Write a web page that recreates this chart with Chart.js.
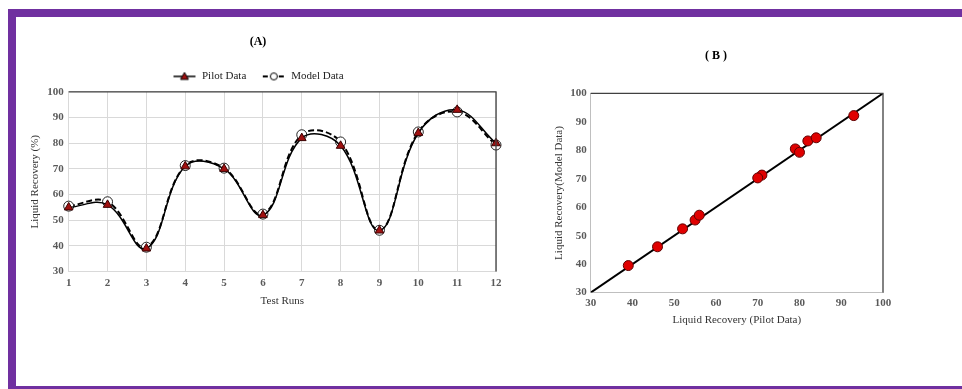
<!DOCTYPE html>
<html>
<head>
<meta charset="utf-8">
<script src="https://cdn.jsdelivr.net/npm/chart.js@4/dist/chart.umd.min.js"></script>
<style>
  body{margin:0;background:#fff;width:962px;height:389px;overflow:hidden;position:relative;}
  .frameTop{position:absolute;left:8px;top:9px;width:954px;height:8px;background:#7030a0;}
  .frameLeft{position:absolute;left:8px;top:9px;width:8px;height:380px;background:#7030a0;}
  .frameBottom{position:absolute;left:8px;top:386px;width:954px;height:3px;background:#7030a0;}
  #chartA{position:absolute;left:16px;top:17px;}
  #chartB{position:absolute;left:530px;top:17px;}
</style>
</head>
<body>
<div class="frameTop"></div>
<div class="frameLeft"></div>
<div class="frameBottom"></div>
<canvas id="chartA" width="500" height="310"></canvas>
<canvas id="chartB" width="400" height="320"></canvas>
<script>
const testRuns=[1,2,3,4,5,6,7,8,9,10,11,12]
const pilotData=[55,56,39,71,70,52,82,79,46,84,93,80]
const modelData=[55.5,57.2,39.5,71.3,70.3,52.4,83.3,80.5,46.1,84.4,92.2,79.3]
const axisTicks=[30,40,50,60,70,80,90,100]
const fitLine=[30,100]

const serif='"Liberation Serif", "Times New Roman", serif'
const tickFont={family:serif,size:11,weight:'bold'}
const titleFont={family:serif,size:11}

// dark line on top and right of the plot, like the excel chart border
const frameLines={
  id:'frameLines',
  afterDatasetsDraw(chart){
    const {ctx,chartArea:a}=chart
    ctx.save()
    ctx.strokeStyle='#404040'
    ctx.lineWidth=1.3
    ctx.beginPath()
    ctx.moveTo(a.left,a.top)
    ctx.lineTo(a.right,a.top)
    ctx.lineTo(a.right,a.bottom)
    ctx.stroke()
    ctx.restore()
  }
}

function legendIcon(dashed,marker){
  const c=document.createElement('canvas')
  c.width=24;c.height=12
  const g=c.getContext('2d')
  g.strokeStyle='#000'
  g.lineWidth=dashed?2:1.5
  if(dashed) g.setLineDash([5,3])
  g.beginPath();g.moveTo(1,6);g.lineTo(23,6);g.stroke()
  g.setLineDash([])
  g.lineWidth=1
  if(marker==='triangle'){
    g.fillStyle='#a01010'
    g.beginPath();g.moveTo(12,2);g.lineTo(16,9);g.lineTo(8,9);g.closePath();g.fill();g.stroke()
  }else{
    g.fillStyle='#fff'
    g.beginPath();g.arc(12,6,3.5,0,Math.PI*2);g.fill();g.stroke()
  }
  return c
}
const pilotIcon=legendIcon(false,'triangle')
const modelIcon=legendIcon(true,'circle')

const ctx1=document.getElementById('chartA')
new Chart(ctx1,{
  type:'line',
  data:{
    datasets:[{
      label:'Pilot Data',
      data:testRuns.map((r,i)=>({x:r,y:pilotData[i]})),
      borderColor:'#000',
      borderWidth:1.5,
      tension:0.4,
      clip:false,
      pointStyle:'triangle',
      pointRadius:5,
      pointBackgroundColor:'#a01010',
      pointBorderColor:'#3a0000',
      pointBorderWidth:1
    },{
      label:'Model Data',
      data:testRuns.map((r,i)=>({x:r,y:modelData[i]})),
      borderColor:'#000',
      borderWidth:2,
      borderDash:[6,3],
      tension:0.4,
      clip:false,
      pointStyle:'circle',
      pointRadius:5,
      pointBackgroundColor:'#fff',
      pointBorderColor:'#222',
      pointBorderWidth:1
    }]
  },
  options:{
    responsive:false,
    animation:false,
    layout:{padding:{left:4,right:20,top:9,bottom:15}},
    plugins:{
      title:{display:true,text:'(A)',color:'#000',font:{family:serif,size:12,weight:'bold'},padding:{top:9,bottom:6}},
      legend:{
        labels:{
          usePointStyle:true,
          pointStyleWidth:24,
          color:'#222',
          font:{family:serif,size:11},
          padding:15.5,
          generateLabels(chart){
            return chart.data.datasets.map((d,i)=>({
              text:d.label,
              datasetIndex:i,
              pointStyle:i===0?pilotIcon:modelIcon,
              fontColor:'#222',
              lineWidth:0,
              strokeStyle:'transparent',
              fillStyle:'transparent'
            }))
          }
        }
      },
      tooltip:{enabled:false}
    },
    scales:{
      x:{
        type:'linear',min:1,max:12,
        ticks:{stepSize:1,color:'#595959',font:tickFont,padding:5},
        grid:{color:'#d9d9d9',drawTicks:false},
        border:{color:'#d9d9d9'},
        title:{display:true,text:'Test Runs',color:'#333',font:titleFont,padding:{top:0,bottom:4}}
      },
      y:{
        min:30,max:100,
        afterBuildTicks(s){s.ticks=axisTicks.map(v=>({value:v}))},
        ticks:{color:'#595959',font:tickFont,padding:5},
        grid:{color:'#d9d9d9',drawTicks:false},
        border:{color:'#d9d9d9'},
        title:{display:true,text:'Liquid Recovery (%)',color:'#333',font:titleFont,padding:{top:9,bottom:0}}
      }
    }
  },
  plugins:[frameLines]
})

const ctx2=document.getElementById('chartB')
new Chart(ctx2,{
  type:'scatter',
  data:{
    datasets:[{
      label:'Pilot vs Model',
      data:pilotData.map((p,i)=>({x:p,y:modelData[i]})),
      clip:false,
      pointRadius:5,
      pointBackgroundColor:'#e00000',
      pointBorderColor:'#600000',
      pointBorderWidth:1
    },{
      type:'line',
      label:'y = x',
      data:fitLine.map(v=>({x:v,y:v})),
      borderColor:'#000',
      borderWidth:2,
      pointRadius:0
    }]
  },
  options:{
    responsive:false,
    animation:false,
    layout:{padding:{left:19,right:47,top:20,bottom:6}},
    plugins:{
      title:{display:true,text:'( B )',color:'#000',font:{family:serif,size:12,weight:'bold'},padding:{top:12,bottom:30}},
      legend:{display:false},
      tooltip:{enabled:false}
    },
    scales:{
      x:{
        type:'linear',min:30,max:100,
        afterBuildTicks(s){s.ticks=axisTicks.map(v=>({value:v}))},
        ticks:{color:'#595959',font:tickFont,padding:4},
        grid:{display:false,drawTicks:false},
        border:{color:'#bfbfbf'},
        title:{display:true,text:'Liquid Recovery (Pilot Data)',color:'#333',font:titleFont,padding:{top:0,bottom:4}}
      },
      y:{
        min:30,max:100,
        afterBuildTicks(s){s.ticks=axisTicks.map(v=>({value:v}))},
        ticks:{color:'#595959',font:tickFont,padding:4},
        grid:{display:false,drawTicks:false},
        border:{color:'#bfbfbf'},
        title:{display:true,text:'Liquid Recovery(Model Data)',color:'#333',font:titleFont,padding:{top:4,bottom:0}}
      }
    }
  },
  plugins:[frameLines]
})
</script>
</body>
</html>
